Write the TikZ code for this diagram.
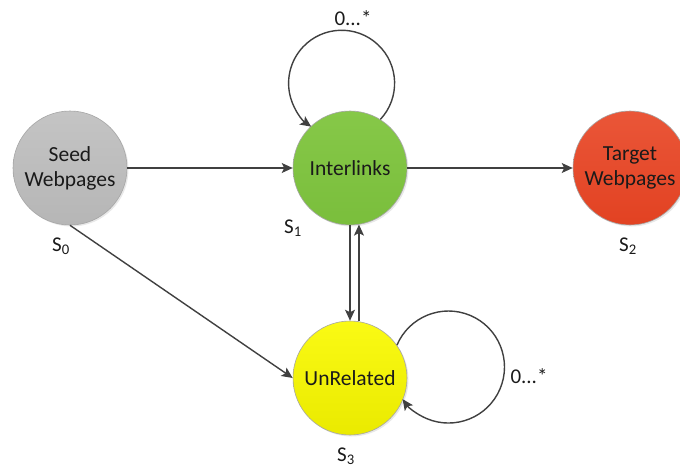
\documentclass[tikz,border=0pt]{standalone}
\usepackage{fontspec}
\setmainfont{Carlito}
\usetikzlibrary{arrows.meta,shadows}
\definecolor{edgecol}{HTML}{404040}
\definecolor{rimcol}{HTML}{A6A6A6}
\definecolor{txtcol}{HTML}{1A1A1A}
\tikzset{
  state/.style={circle, minimum size=114pt, inner sep=0pt, draw=rimcol, line width=0.6pt,
    align=center, text=txtcol, font=\fontsize{21.5}{25}\selectfont,
    drop shadow={shadow xshift=1.5pt, shadow yshift=-1.5pt, opacity=0.18}},
  conn/.style={draw=edgecol, line width=1.4pt, -{Stealth[length=11pt,width=10pt,inset=2.5pt]}},
  lab/.style={font=\fontsize{21}{25}\selectfont, text=txtcol, inner sep=0pt}
}
\begin{document}
\begin{tikzpicture}[x=1pt,y=1pt]
\useasboundingbox (0,0) rectangle (680,467);
\clip (0,0) rectangle (680,467);
\node[state, top color={rgb,255:red,196;green,196;blue,196}, bottom color={rgb,255:red,182;green,182;blue,182}] (S) at (70,299) {Seed\\Webpages};
\node[state, top color={rgb,255:red,134;green,200;blue,72}, bottom color={rgb,255:red,122;green,190;blue,60}] (I) at (350,299) {Interlinks};
\node[state, top color={rgb,255:red,234;green,86;blue,56}, bottom color={rgb,255:red,226;green,66;blue,34}] (T) at (630,299) {Target\\Webpages};
\node[state, top color={rgb,255:red,250;green,250;blue,20}, bottom color={rgb,255:red,234;green,234;blue,0}] (U) at (350,89) {UnRelated};
\node[lab] (l0) at (61,221) {S\textsubscript{0}};
\node[lab] (l1) at (293,239) {S\textsubscript{1}};
\node[lab] (l2) at (628,221) {S\textsubscript{2}};
\node[lab] (l3) at (346,11) {S\textsubscript{3}};
\node[lab] (ltop) at (353,449) {0...*};
\node[lab] (lright) at (529,91) {0...*};
\draw[conn] (S.east) -- (I.west);
\draw[conn] (I.east) -- (T.west);
\draw[conn] (S.south) -- (U.west);
\draw[conn] (I.south) -- (U.north);
\draw[conn] (U.81) -- (I.-81);
\draw[conn] (I.58) arc[start angle=-43, end angle=235, radius=53];
\draw[conn] (U.35) arc[start angle=157, end angle=-145, radius=56];
\end{tikzpicture}
\end{document}
